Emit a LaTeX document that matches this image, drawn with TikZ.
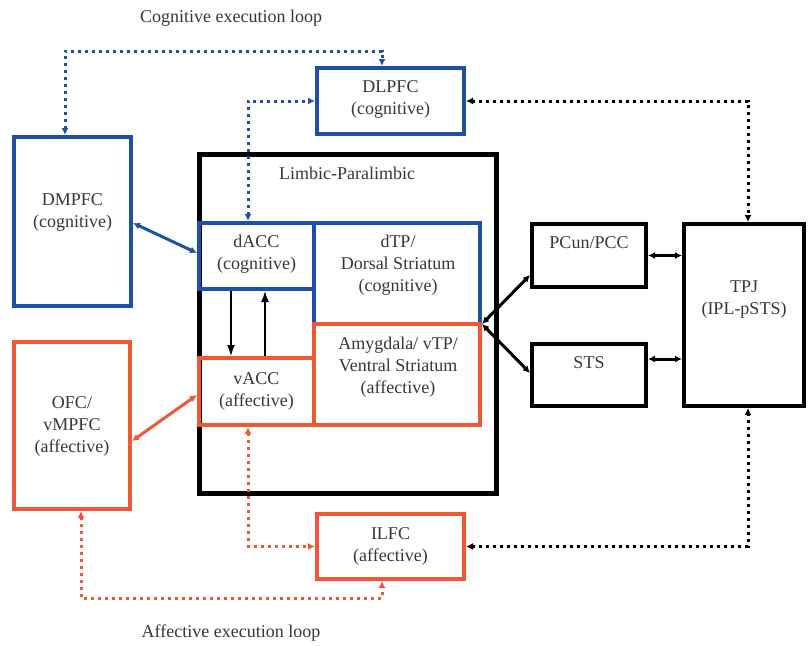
\documentclass[tikz,border=0pt]{standalone}
\usepackage{fontspec}
\setmainfont{Liberation Serif}
\usetikzlibrary{arrows.meta,calc}
\definecolor{cblue}{RGB}{30,80,165}
\definecolor{corange}{RGB}{238,88,55}
\definecolor{txt}{RGB}{55,55,55}
\begin{document}
\begin{tikzpicture}[x=1pt,y=-1pt,
  font=\fontsize{18}{22}\selectfont,
  box/.style={draw, line width=4pt, inner sep=0pt, fill=none},
  lbl/.style={align=center, text=txt, inner sep=0pt},
  dots/.style={line width=3pt, dash pattern=on 3pt off 4pt},
  tip/.style={{Latex[length=7pt,width=7pt]}-{Latex[length=7pt,width=7pt]}},
  conn/.style={line width=3pt},
  thin/.style={line width=1.5pt, -{Latex[length=11pt,width=8pt]}}
]
\useasboundingbox (0,0) rectangle (808,646);

% limbic box
\node[box, line width=5pt, minimum width=297pt, minimum height=339pt] (limbic) at (347.5,323.5) {};
\node[lbl] (limbiclbl) at (347,173) {Limbic-Paralimbic};

% blue boxes
\node[box, draw=cblue, minimum width=147pt, minimum height=66pt] (DLPFC) at (390.5,101) {};
\node[box, draw=cblue, minimum width=117pt, minimum height=169pt] (DMPFC) at (72.5,221.5) {};
\node[box, draw=cblue, minimum width=115pt, minimum height=66pt] (dACC) at (256.5,256) {};
\node[box, draw=cblue, minimum width=166pt, minimum height=101pt] (dTP) at (397,273.5) {};

% orange boxes
\node[box, draw=corange, minimum width=116pt, minimum height=167pt] (OFC) at (72,425.5) {};
\node[box, draw=corange, minimum width=147pt, minimum height=65pt] (ILFC) at (390.5,546.5) {};
\node[box, draw=corange, minimum width=115pt, minimum height=67pt] (vACC) at (256.5,391.5) {};
\node[box, draw=corange, minimum width=166pt, minimum height=101pt] (AMY) at (397,374.5) {};

% black boxes
\node[box, minimum width=114pt, minimum height=63pt] (PCun) at (589,255.5) {};
\node[box, minimum width=114pt, minimum height=62pt] (STS) at (589,375) {};
\node[box, minimum width=120pt, minimum height=182pt] (TPJ) at (744,315) {};

% labels
\node[lbl] (DLPFCt) at (390.5,99) {DLPFC\\(cognitive)};
\node[lbl] (DMPFCt) at (72.5,212) {DMPFC\\(cognitive)};
\node[lbl] (dACCt) at (256.5,254) {dACC\\(cognitive)};
\node[lbl] (dTPt) at (398,265) {dTP/\\Dorsal Striatum\\(cognitive)};
\node[lbl] (OFCt) at (72,426) {OFC/\\vMPFC\\(affective)};
\node[lbl] (ILFCt) at (390.5,546) {ILFC\\(affective)};
\node[lbl] (vACCt) at (256.5,391) {vACC\\(affective)};
\node[lbl] (AMYt) at (398,367) {Amygdala/ vTP/\\Ventral Striatum\\(affective)};
\node[lbl] (PCunt) at (589,243) {PCun/PCC};
\node[lbl] (STSt) at (589,363) {STS};
\node[lbl] (TPJt) at (744,300) {TPJ\\(IPL-pSTS)};
\node[lbl] (coglbl) at (231,18) {Cognitive execution loop};
\node[lbl] (afflbl) at (231,633) {Affective execution loop};

% cognitive loop
\draw[dots, tip, cblue] (DMPFC.north -| 65,0) |- (382,51) -- (DLPFC.north -| 382,0);
\draw[dots, tip, cblue] (dACC.north -| 248,0) |- (DLPFC.west);
\draw[conn, tip, cblue] (DMPFC.east |- 0,223) -- (dACC.west |- 0,253);

% affective loop
\draw[dots, tip, corange] (OFC.south -| 81,0) |- (382,598) -- (ILFC.south -| 382,0);
\draw[dots, tip, corange] (vACC.south -| 248,0) |- (ILFC.west);
\draw[conn, tip, corange] (OFC.east |- 0,441) -- (vACC.west |- 0,395);

% dACC <-> vACC
\draw[thin] (dACC.south -| 231,0) -- (vACC.north -| 231,0);
\draw[thin] (vACC.north -| 265,0) -- (dACC.south -| 265,0);

% TPJ links
\draw[dots, tip] (DLPFC.east) -| (TPJ.north -| 748,0);
\draw[dots, tip] (ILFC.east) -| (TPJ.south -| 748,0);
\coordinate (J) at (482,324);
\draw[conn, tip] (J) -- (PCun.west |- 0,275);
\draw[conn, tip] (J) -- (STS.west |- 0,373);
\draw[conn, tip] (PCun.east) -- (TPJ.west |- PCun.east);
\draw[conn, tip] (STS.east |- 0,359) -- (TPJ.west |- 0,359);
\end{tikzpicture}
\end{document}
